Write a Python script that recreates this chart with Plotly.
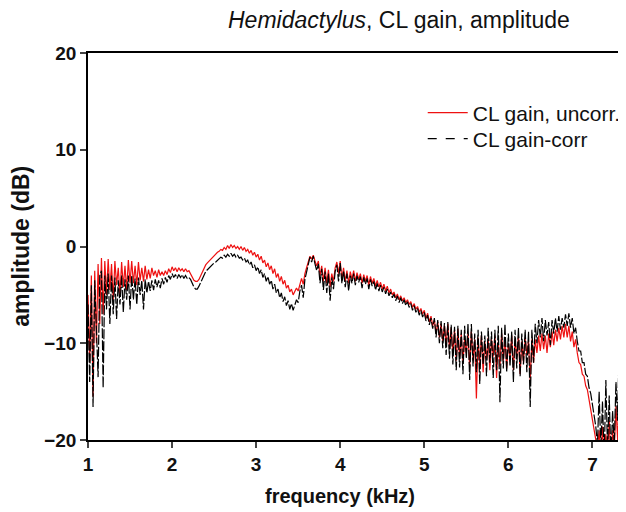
import plotly.graph_objects as go

# frequency grid (kHz)
freq = [
    1.00, 1.02, 1.04, 1.06, 1.08, 1.10, 1.12, 1.14, 1.16, 1.18, 1.20,
    1.22, 1.24, 1.26, 1.28, 1.30, 1.32, 1.34, 1.36, 1.38, 1.40, 1.42, 1.44, 1.46, 1.48, 1.50,
    1.52, 1.54, 1.56, 1.58, 1.60, 1.62, 1.64, 1.66, 1.68, 1.70, 1.72, 1.74, 1.76, 1.78, 1.80, 1.82, 1.84, 1.86, 1.88, 1.90, 1.92, 1.94, 1.96, 1.98,
    2.00, 2.02, 2.04, 2.06, 2.08, 2.10, 2.12, 2.14, 2.16, 2.18, 2.20,
    2.22, 2.24, 2.26, 2.28, 2.30, 2.32, 2.34, 2.36, 2.38, 2.40,
    2.42, 2.44, 2.46, 2.48, 2.50, 2.52, 2.54, 2.56, 2.58, 2.60, 2.62, 2.64, 2.66, 2.68, 2.70, 2.72, 2.74, 2.76, 2.78, 2.80,
    2.82, 2.84, 2.86, 2.88, 2.90, 2.92, 2.94, 2.96, 2.98, 3.00, 3.02, 3.04, 3.06, 3.08, 3.10, 3.12, 3.14, 3.16, 3.18, 3.20, 3.22, 3.24, 3.26, 3.28, 3.30, 3.32, 3.34, 3.36, 3.38, 3.40, 3.42, 3.44, 3.46,
    3.48, 3.50, 3.52, 3.54, 3.56, 3.58, 3.60, 3.62, 3.64, 3.66, 3.68, 3.70,
    3.72, 3.74, 3.76, 3.78, 3.80, 3.82, 3.84, 3.86, 3.88, 3.90, 3.92, 3.94, 3.96, 3.98, 4.00,
    4.02, 4.04, 4.06, 4.08, 4.10, 4.12, 4.14, 4.16, 4.18, 4.20, 4.22, 4.24, 4.26, 4.28, 4.30, 4.32, 4.34, 4.36, 4.38, 4.40, 4.42, 4.44, 4.46, 4.48, 4.50, 4.52, 4.54, 4.56, 4.58, 4.60,
    4.62, 4.64, 4.66, 4.68, 4.70, 4.72, 4.74, 4.76, 4.78, 4.80, 4.82, 4.84, 4.86, 4.88, 4.90, 4.92, 4.94, 4.96, 4.98, 5.00, 5.02, 5.04, 5.06, 5.08, 5.10,
    5.12, 5.14, 5.16, 5.18, 5.20, 5.22, 5.24, 5.26, 5.28, 5.30, 5.32, 5.34, 5.36, 5.38, 5.40,
    5.42, 5.44, 5.46, 5.48, 5.50, 5.52, 5.54, 5.56, 5.58, 5.60, 5.62, 5.64, 5.66, 5.68, 5.70, 5.72, 5.74, 5.76, 5.78, 5.80, 5.82, 5.84, 5.86, 5.88, 5.90, 5.92, 5.94, 5.96, 5.98, 6.00, 6.02, 6.04, 6.06, 6.08, 6.10, 6.12, 6.14, 6.16, 6.18, 6.20, 6.22, 6.24, 6.26, 6.28, 6.30,
    6.32, 6.34, 6.36, 6.38, 6.40, 6.42, 6.44, 6.46, 6.48, 6.50, 6.52, 6.54, 6.56, 6.58, 6.60, 6.62, 6.64, 6.66, 6.68, 6.70, 6.72, 6.74, 6.76, 6.78, 6.80,
    6.82, 6.84, 6.86, 6.88, 6.90, 6.92, 6.94, 6.96, 6.98, 7.00, 7.02, 7.04, 7.06, 7.08, 7.10, 7.12, 7.14, 7.16, 7.18, 7.20, 7.22, 7.24, 7.26, 7.28, 7.30, 7.32, 7.34,
]

# CL gain, uncorrected (dB)
gain_uncorr = [
    -5, -12, -3, -15.5, -2.5, -10, -1.8, -8, -1.2, -7, -1.5,
    -5, -1.3, -4.5, -1.8, -5.5, -1.5, -4, -2.2, -5, -1.6, -4.2, -2, -4.5, -1.4, -3.8,
    -1.5, -3.8, -2, -4, -1.6, -3.5, -2.2, -3.6, -2, -3.4, -2.4, -3.3, -2.2, -3, -2.5, -3.2, -2.4, -3, -2.6, -3, -2.5, -2.9, -2.3, -2.7,
    -2.1, -2.5, -2.2, -2.6, -2.2, -2.5, -2.3, -2.6, -2.3, -2.6, -2.5,
    -2.8, -3.2, -3.5, -3.6, -3.6, -3.4, -3.0, -2.6, -2.2, -1.9,
    -1.7, -1.5, -1.3, -1.1, -0.9, -0.8, -0.6, -0.5, -0.3, -0.4, -0.1, -0.3, 0.1, -0.2, 0.2, -0.1, 0.1, -0.2, 0.0, -0.3,
    0.0, -0.4, -0.1, -0.5, -0.3, -0.7, -0.4, -0.9, -0.6, -1.1, -0.8, -1.4, -1.0, -1.7, -1.4, -2.1, -1.7, -2.4, -2.0, -2.8, -2.3, -3.2, -2.8, -3.6, -3.1, -3.9, -3.5, -4.3, -4.0, -4.7, -4.4, -5.0, -4.6,
    -4.3, -4.6, -3.8, -3.3, -3.9, -2.8, -2.2, -1.6, -1.0, -1.3, -0.9, -1.5,
    -2.0, -1.5, -3.0, -2.0, -3.6, -2.2, -3.8, -2.4, -4.2, -2.8, -3.6, -2.2, -1.6, -2.8, -1.5,
    -3.4, -2.2, -3.6, -2.5, -3.8, -2.6, -3.4, -2.5, -3.6, -2.7, -3.4, -2.8, -3.8, -2.9, -3.6, -3.0, -4.0, -3.1, -3.8, -3.3, -4.1, -3.5, -4.2, -3.7, -4.4, -3.9, -4.6, -4.1, -4.8, -4.4,
    -5.0, -4.7, -5.3, -4.9, -5.5, -5.1, -5.6, -5.3, -5.8, -5.5, -6.0, -5.7, -6.3, -5.9, -6.5, -6.2, -6.8, -6.4, -7.0, -6.6, -7.4, -6.9, -7.8, -7.2, -8.2,
    -7.6, -9.0, -7.8, -9.4, -8.0, -9.8, -8.2, -10.2, -8.0, -10.6, -8.4, -11.0, -8.6, -11.8, -8.5,
    -11.5, -9.0, -12.0, -9.5, -11.0, -9.0, -12.5, -8.8, -11.8, -9.6, -15.7, -9.4, -12.2, -9.2, -13.0, -9.8, -11.6, -9.4, -12.8, -9.6, -11.4, -9.2, -13.6, -9.8, -12.4, -9.0, -11.8, -9.4, -12.6, -10.0, -11.6, -9.2, -12.8, -9.6, -11.4, -9.2, -13.2, -9.8, -12.0, -9.4, -11.2, -9.8, -13.8, -9.6, -12.0,
    -9.6, -11.0, -9.2, -10.8, -9.0, -10.6, -9.2, -11.0, -9.0, -10.4, -8.8, -10.2, -8.6, -9.8, -8.4, -9.6, -8.2, -9.4, -8.0, -9.4, -8.2, -9.8, -8.8, -10.4, -9.6,
    -11.0, -12.0, -12.2, -13.2, -13.4, -14.4, -14.8, -15.8, -16.6, -17.6, -18.6, -19.8, -21.0, -19.0, -22.0, -18.6, -22.0, -19.4, -21.5, -18.0, -22.0, -19.0, -21.0, -16.5, -20.0, -15.0, -18.0,
]

# CL gain, corrected (dB)
gain_corr = [
    -6, -14, -4, -16.6, -3.5, -9, -13.5, -3, -2.5, -14.6, -3,
    -6.5, -2.8, -8, -3, -7, -3.2, -7.5, -3.5, -6, -3, -6.8, -3.4, -5.5, -3, -6.5,
    -3, -5.5, -3.3, -6, -3.2, -5, -3.5, -6.5, -3.4, -4.8, -3.6, -4.6, -3.5, -4.5, -3.4, -4.2, -3.5, -4.3, -3.3, -3.9, -3.2, -3.7, -3, -3.4,
    -2.8, -3.2, -2.9, -3.3, -2.9, -3.2, -2.9, -3.3, -3.0, -3.3, -3.2,
    -3.4, -3.8, -4.2, -4.4, -4.4, -4.1, -3.7, -3.3, -2.9, -2.6,
    -2.4, -2.2, -2.0, -1.9, -1.7, -1.6, -1.4, -1.3, -1.1, -1.2, -0.9, -1.1, -0.8, -1.0, -0.7, -1.0, -0.8, -1.1, -0.9, -1.2,
    -1.1, -1.4, -1.2, -1.6, -1.4, -1.9, -1.6, -2.2, -1.9, -2.5, -2.1, -2.8, -2.4, -3.2, -2.8, -3.6, -3.1, -3.9, -3.5, -4.4, -3.9, -4.8, -4.4, -5.3, -4.8, -5.7, -5.2, -6.1, -5.6, -6.5, -5.9, -6.6, -6.0,
    -5.5, -5.8, -4.6, -4.0, -5.3, -3.4, -2.6, -1.8, -1.1, -1.6, -1.0, -1.8,
    -2.5, -1.8, -3.8, -2.3, -4.5, -2.6, -4.8, -2.8, -5.6, -3.2, -4.4, -2.6, -1.9, -3.6, -1.7,
    -3.8, -2.5, -4.2, -2.8, -4.6, -3.0, -3.8, -2.8, -4.0, -3.0, -3.7, -3.1, -4.3, -3.2, -3.9, -3.3, -4.4, -3.4, -4.1, -3.6, -4.5, -3.8, -4.6, -4.0, -4.7, -4.2, -4.9, -4.4, -5.1, -4.7,
    -5.3, -4.9, -5.6, -5.1, -5.8, -5.3, -5.9, -5.5, -6.1, -5.7, -6.3, -5.9, -6.6, -6.1, -6.8, -6.4, -7.1, -6.6, -7.3, -6.8, -7.7, -7.1, -8.1, -7.4, -8.5,
    -7.4, -9.4, -7.6, -10.0, -7.7, -10.5, -7.9, -11.2, -7.8, -11.6, -8.1, -12.2, -8.3, -12.8, -8.2,
    -12.5, -8.6, -13.2, -8.2, -11.6, -8.0, -13.8, -8.0, -12.4, -9.0, -13.0, -8.6, -14.2, -8.8, -12.2, -9.2, -13.4, -8.4, -12.0, -8.8, -13.6, -8.6, -12.8, -8.2, -16.1, -8.4, -12.6, -8.0, -13.0, -9.0, -12.4, -8.8, -14.0, -8.6, -12.6, -8.4, -13.4, -9.0, -12.2, -8.6, -13.0, -8.8, -16.6, -8.6, -12.0,
    -8.0, -10.0, -7.6, -9.4, -7.4, -9.8, -7.6, -9.2, -7.8, -10.2, -7.6, -9.0, -7.4, -8.8, -7.2, -8.6, -7.4, -8.4, -7.0, -8.2, -6.9, -8.4, -7.4, -9.0, -8.4,
    -9.8, -10.8, -10.8, -12.0, -12.0, -13.2, -13.4, -14.6, -15.2, -16.4, -17.2, -18.6, -20.5, -15.0, -21.0, -16.0, -22.0, -13.8, -21.0, -15.4, -22.0, -17.0, -20.5, -14.0, -18.0, -9.4, -12.0,
]

series_names = ["CL gain, uncorr.", "CL gain-corr"]
x_ticks = [1, 2, 3, 4, 5, 6, 7]
y_ticks = [-20, -10, 0, 10, 20]

assert len(freq) == len(gain_uncorr) == len(gain_corr), (len(freq), len(gain_uncorr), len(gain_corr))

FONT = "Liberation Sans, Arial, sans-serif"

fig = go.Figure()
fig.add_trace(go.Scatter(
    x=freq, y=gain_uncorr, mode="lines", name=series_names[0], legend="legend",
    line=dict(color="#ee1111", width=1.2),
))
fig.add_trace(go.Scatter(
    x=freq, y=gain_corr, mode="lines", name=series_names[1], showlegend=False,
    line=dict(color="#000000", width=1.2, dash="10px,2px"),
))
# legend entry for the corrected series (dashed sample)
fig.add_trace(go.Scatter(
    x=[None], y=[None], mode="lines", name=series_names[1], legend="legend2",
    line=dict(color="#000000", width=1.2, dash="dash"),
))

tick_font = dict(family=FONT, size=19, color="#111", weight="bold")
leg_common = dict(xanchor="left", yanchor="top", bgcolor="rgba(0,0,0,0)",
                  font=dict(size=21, color="#111"), itemwidth=40)

fig.update_layout(
    width=618, height=504,
    margin=dict(l=80, r=0, t=45, b=72),
    paper_bgcolor="white", plot_bgcolor="white",
    font=dict(family=FONT, color="#111"),
    showlegend=True,
    legend=dict(x=0.628, y=0.898, **leg_common),
    legend2=dict(x=0.628, y=0.831, **leg_common),
    annotations=[
        dict(text="<i>Hemidactylus</i>, CL gain, amplitude",
             xref="paper", yref="paper", x=0.5836, y=1.085,
             xanchor="center", yanchor="middle", showarrow=False,
             font=dict(size=23, color="#111")),
        dict(text="<b>frequency (kHz)</b>",
             xref="paper", yref="paper", x=0.472, y=-0.1447,
             xanchor="center", yanchor="middle", showarrow=False,
             font=dict(size=20, color="#111")),
        dict(text="<b>amplitude (dB)</b>", textangle=-90,
             xref="paper", yref="paper", x=-0.1264, y=0.501,
             xanchor="center", yanchor="middle", showarrow=False,
             font=dict(size=23, color="#111")),
    ],
)
fig.update_xaxes(
    range=[1, 7.34], tickvals=x_ticks, ticks="outside", ticklen=6, tickwidth=1.5,
    showline=True, linecolor="black", linewidth=1.8, mirror=True,
    showgrid=False, zeroline=False, tickfont=tick_font,
)
fig.update_yaxes(
    range=[-20, 20], tickvals=y_ticks, ticks="outside", ticklen=6, tickwidth=1.5,
    showline=True, linecolor="black", linewidth=1.8, mirror=False,
    showgrid=False, zeroline=False, tickfont=tick_font, ticklabelstandoff=0,
)

fig.write_html("out.html")
